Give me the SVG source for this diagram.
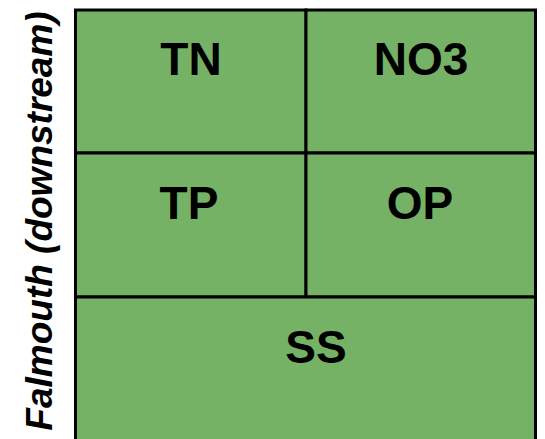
<svg xmlns="http://www.w3.org/2000/svg" width="545" height="439" viewBox="0 0 545 439">
  <style>
    .cell { fill: #75B266; stroke: #000; stroke-width: 3; }
    .lbl { font-family: "Liberation Sans", Arial, sans-serif; font-weight: bold; font-size: 46px; fill: #000; text-anchor: middle; }
    .side { font-family: "Liberation Sans", Arial, sans-serif; font-weight: bold; font-style: italic; font-size: 37px; fill: #000; text-anchor: middle; }
  </style>
  <rect width="545" height="439" fill="#fff"/>
  <g id="TN">
    <rect class="cell" x="75.5" y="10" width="230.5" height="143"/>
    <text class="lbl" x="191" y="75">TN</text>
  </g>
  <g id="NO3">
    <rect class="cell" x="306" y="10" width="229.5" height="143"/>
    <text class="lbl" x="421" y="75">NO3</text>
  </g>
  <g id="TP">
    <rect class="cell" x="75.5" y="153" width="230.5" height="144"/>
    <text class="lbl" x="189" y="219">TP</text>
  </g>
  <g id="OP">
    <rect class="cell" x="306" y="153" width="229.5" height="144"/>
    <text class="lbl" x="420" y="219">OP</text>
  </g>
  <g id="SS">
    <rect class="cell" x="75.5" y="297" width="460" height="146"/>
    <text class="lbl" x="316" y="363">SS</text>
  </g>
  <g id="side-label">
    <text class="side" transform="translate(52,221) rotate(-90)">Falmouth (downstream)</text>
  </g>
</svg>
